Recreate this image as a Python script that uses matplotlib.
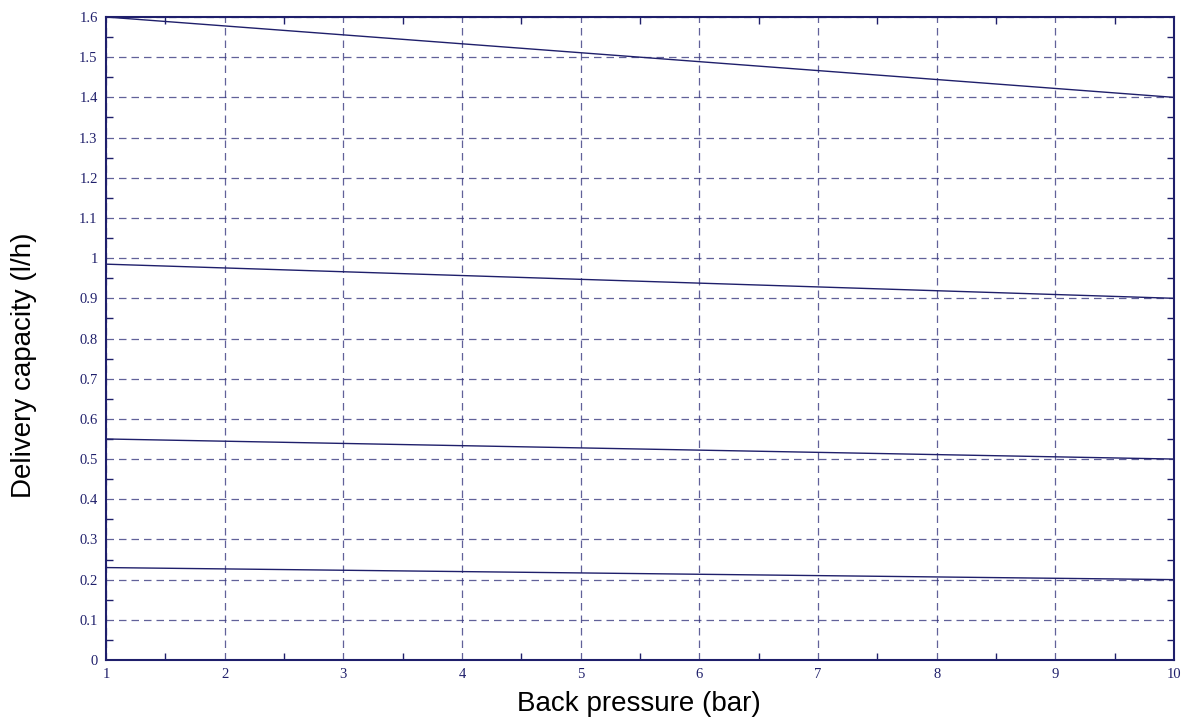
import matplotlib
matplotlib.use("Agg")
import matplotlib.pyplot as plt
from matplotlib.ticker import MultipleLocator

x_pressure = [1, 10]
series = [
    [1.6, 1.4],
    [0.985, 0.9],
    [0.55, 0.5],
    [0.23, 0.2],
]
x_ticks = [1, 2, 3, 4, 5, 6, 7, 8, 9, 10]
y_ticks = [0, 0.1, 0.2, 0.3, 0.4, 0.5, 0.6, 0.7, 0.8, 0.9, 1, 1.1, 1.2, 1.3, 1.4, 1.5, 1.6]
y_tick_labels = ["0", "0.1", "0.2", "0.3", "0.4", "0.5", "0.6", "0.7", "0.8", "0.9", "1",
                 "1.1", "1.2", "1.3", "1.4", "1.5", "1.6"]

navy = "#1f1f6b"
gridc = "#3a3a80"

fig = plt.figure(figsize=(11.92, 7.18), dpi=100)
ax = fig.add_axes([106/1192, 1-660/718, (1174-106)/1192, (660-17)/718])

for s in series:
    ax.plot(x_pressure, s, color=navy, lw=1.0, zorder=3)

ax.set_xlim(1, 10)
ax.set_ylim(0, 1.6)
ax.set_xticks(x_ticks)
ax.set_xticklabels([str(v) for v in x_ticks])
ax.set_yticks(y_ticks)
ax.set_yticklabels(y_tick_labels)
ax.xaxis.set_minor_locator(MultipleLocator(0.5))
ax.yaxis.set_minor_locator(MultipleLocator(0.05))
ax.tick_params(which="both", direction="in", top=True, right=True, color=navy,
               labelcolor=navy)
ax.tick_params(which="major", length=0, pad=6)
ax.tick_params(which="minor", length=5, width=1)
for lab in ax.get_xticklabels() + ax.get_yticklabels():
    lab.set_family("Liberation Serif")
    lab.set_fontsize(10.5)
ax.grid(True, which="major", color=gridc, linestyle=(0, (6, 4)), lw=0.9, alpha=0.8)
for sp in ax.spines.values():
    sp.set_color(navy)
    sp.set_linewidth(1.5)

fig.text(639/1192, 1-704/718, "Back pressure (bar)", family="Liberation Sans",
         fontsize=20, color="black", ha="center", va="center")
fig.text(24/1192, 1-365/718, "Delivery capacity (l/h)", family="Liberation Sans",
         fontsize=20, color="black", ha="center", va="center", rotation=90)

fig.savefig("out.png", dpi=100)
